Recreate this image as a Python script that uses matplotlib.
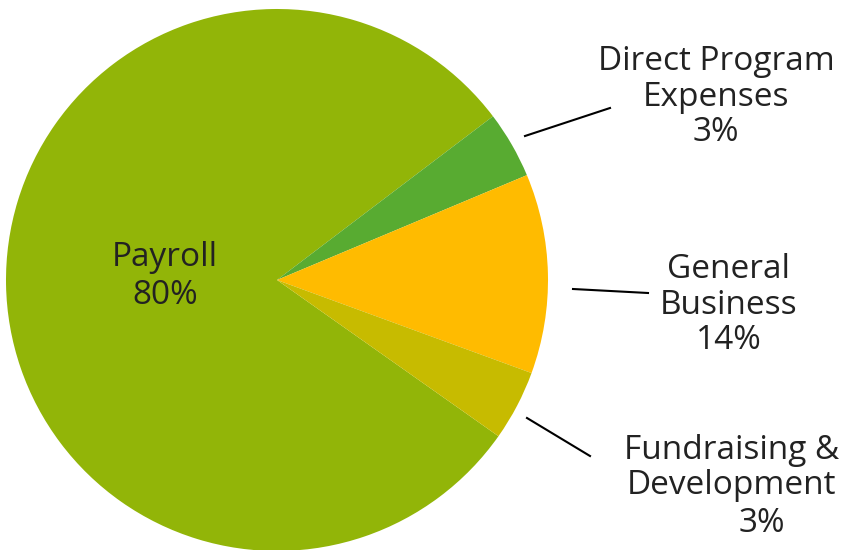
import matplotlib.pyplot as plt

# slice shares and their printed labels
categories = ["Payroll", "Direct Program\nExpenses", "General\nBusiness", "Fundraising &\nDevelopment"]
values = [79.9, 4.0, 11.9, 4.2]
pct_labels = ["80%", "3%", "14%", "3%"]
colors = ["#92B508", "#58AB31", "#FFBB00", "#C7BB00"]

plt.rcParams['font.family'] = ['Open Sans', 'DejaVu Sans']
TXT = "#222222"

fig = plt.figure(figsize=(8.56, 5.5), dpi=100)
ax = fig.add_axes([0, 0, 1, 1])

# y axis runs top-down, so counterclock in data is clockwise on screen
wedges, _ = ax.pie(values, colors=colors, startangle=35.2, counterclock=True,
                   center=(277, 280), radius=271,
                   wedgeprops=dict(linewidth=0))
ax.set_xlim(0, 856)
ax.set_ylim(550, 0)
ax.set_aspect('equal')
ax.axis('off')

fs = 24
ls = 1.1
# Payroll label inside
ax.text(165, 277, categories[0] + "\n" + pct_labels[0], ha='center', va='center',
        fontsize=fs, color=TXT, linespacing=1.2)

# outside labels
ax.text(716, 97, categories[1] + "\n" + pct_labels[1], ha='center', va='center',
        fontsize=fs, color=TXT, linespacing=ls)
ax.text(729, 305, categories[2] + "\n" + pct_labels[2], ha='center', va='center',
        fontsize=fs, color=TXT, linespacing=ls)
ax.text(732, 468, categories[3], ha='center', va='center',
        fontsize=fs, color=TXT, linespacing=ls)
ax.text(762, 523, pct_labels[3], ha='center', va='center',
        fontsize=fs, color=TXT)

# leader lines
ax.plot([525, 610], [136, 108], color='black', lw=1.5)
ax.plot([573, 648], [289, 293], color='black', lw=1.5)
ax.plot([527, 590], [418, 456], color='black', lw=1.5)

fig.savefig("out.png", dpi=100)
